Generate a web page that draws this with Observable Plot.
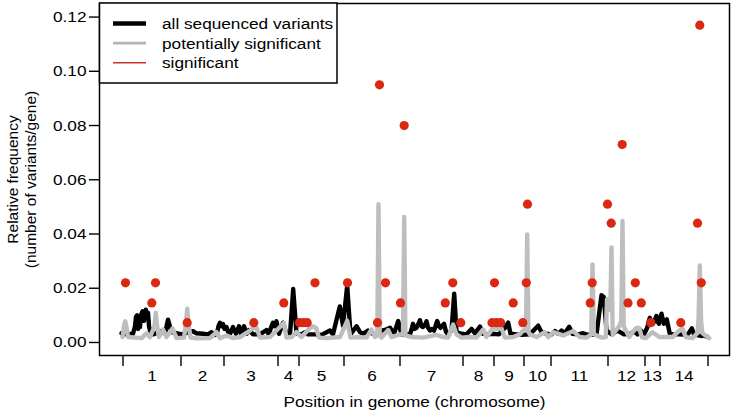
<!DOCTYPE html>
<html><head><meta charset="utf-8">
<script src="https://cdn.jsdelivr.net/npm/d3@7"></script>
<script src="https://cdn.jsdelivr.net/npm/@observablehq/plot@0.6"></script>
<style>body{margin:0;background:#fff;}</style>
</head><body><div id="chart"></div>
<script>
// ---- data ----
const chrNames = ["1","2","3","4","5","6","7","8","9","10","11","12","13","14"];
const chrBounds = [0,58,101,155,176,221,277,340,371,401,428,485,522,537,585];
const yTicks = [0,0.02,0.04,0.06,0.08,0.10,0.12];
const legendLabels = ["all sequenced variants","potentially significant","significant"];

const blackPos = [-1.5,3.5,10,12,13,14,15,16,17,18,19.5,21,22.8,24,25,26,27,30,38.5,42,45,48.5,53.5,58.5,70,73.5,80,85,88.5,92,94,95.5,97,98.5,100,101.5,103.5,105,107,110,113,116,118,121,123.5,126,130,137,143.5,145,146,148,150,151.5,153.5,155,156,160,163.5,167,170.2,173.5,178.5,182,185,192,198.5,207,210,216.8,220,224.2,227.5,233.5,237,240,245,249.5,253.5,258.5,262,267,271,275.2,278.5,287,289,290,291.5,293.5,295,297,298.5,300,302,303.5,305,307,309,311,312.5,314.2,316,317.5,319,321,323,325,328.5,331.2,333.5,338.5,343.5,348.5,352,357,360,365,370,376,382,385.2,387.5,393.5,398.5,407,412,415.2,418.5,423.5,428.5,432,435,438.5,442,446.2,449.5,455,460,463.5,469.5,473.5,478.5,480.8,483.5,488.5,494.5,501,508,511,514.5,518,521,523,524.5,525.5,526.8,528.5,530,532,533.5,535,536,537.5,538.5,540,541,542.5,543.8,545.2,546.8,550,556,564.5,568.8,571,575.5,579,581,584.5];
const blackVal = [.0034,.0030,.0032,.0060,.0095,.0100,.0050,.0090,.0057,.0100,.0115,.0080,.0121,.0090,.0110,.0060,.0044,.0030,.0042,.0032,.0084,.0038,.0034,.0030,.0042,.0034,.0032,.0030,.0038,.0028,.0035,.0060,.0073,.0060,.0068,.0050,.0057,.0040,.0032,.0057,.0032,.0060,.0032,.0060,.0032,.0046,.0030,.0030,.0046,.0035,.0032,.0055,.0073,.0060,.0078,.0050,.0032,.0073,.0032,.0030,.0197,.0032,.0030,.0038,.0030,.0030,.0028,.0044,.0030,.0133,.0062,.0210,.0030,.0060,.0038,.0032,.0044,.0032,.0030,.0044,.0046,.0054,.0032,.0079,.0030,.0030,.0055,.0069,.0050,.0054,.0065,.0082,.0060,.0057,.0065,.0078,.0055,.0044,.0050,.0044,.0060,.0079,.0060,.0054,.0060,.0069,.0040,.0030,.0044,.0180,.0038,.0032,.0030,.0050,.0034,.0059,.0032,.0030,.0032,.0030,.0054,.0073,.0032,.0030,.0028,.0030,.0050,.0062,.0038,.0032,.0030,.0042,.0032,.0044,.0034,.0058,.0032,.0030,.0034,.0030,.0028,.0030,.0174,.0168,.0044,.0030,.0044,.0030,.0032,.0042,.0030,.0044,.0030,.0045,.0057,.0075,.0091,.0070,.0069,.0085,.0098,.0075,.0069,.0090,.0106,.0080,.0069,.0078,.0085,.0060,.0032,.0030,.0030,.0028,.0052,.0030,.0026,.0024,.0026,.0020];

const grayPos = [-0.5,1,2.2,3.4,5,18.5,23.5,27,31.5,32.8,34.1,36,40,43.5,49.5,53.5,61,63,64.2,65.4,67.5,73.5,87,93.5,97,103.5,110,117,127,130.2,133.5,137,147,153.5,160.8,163.5,168.5,173.5,178.5,186,189.5,193,196,203.5,217,224.2,227.5,235,243.5,248.5,252,254.3,255.5,256.7,258.5,265.2,268.5,277,280,281.2,282.4,288.5,300,313.5,320,325,330.2,333.5,338.5,347,353.5,360.2,363.5,370.2,374,378.5,381.8,390.2,396.8,400.2,403,404.2,405.4,406.8,413.5,421.8,425.2,430.2,440.2,450.2,456.8,463.5,468.2,469.5,470.8,478.5,482.8,484,486.2,487.3,488.5,489.7,492.8,496.2,498.3,499.5,500.7,502.8,506.2,509.5,513.5,516.2,518.8,522.8,529.5,536.2,549.5,556.2,559.5,562.8,569.5,574.5,575.5,576.8,578.1,579.3,586.2];
const grayVal = [.0020,.0060,.0078,.0060,.0020,.0016,.0034,.0020,.0060,.0110,.0060,.0020,.0048,.0020,.0052,.0016,.0018,.0070,.0125,.0070,.0018,.0015,.0016,.0038,.0016,.0026,.0016,.0020,.0044,.0054,.0054,.0018,.0020,.0044,.0072,.0018,.0020,.0038,.0020,.0050,.0060,.0054,.0018,.0016,.0020,.0080,.0018,.0020,.0018,.0048,.0020,.0026,.0510,.0026,.0018,.0046,.0020,.0030,.0032,.0463,.0026,.0020,.0018,.0028,.0020,.0018,.0066,.0030,.0018,.0020,.0018,.0048,.0020,.0054,.0050,.0052,.0018,.0020,.0030,.0044,.0050,.0398,.0040,.0030,.0020,.0038,.0020,.0038,.0026,.0042,.0020,.0018,.0030,.0288,.0030,.0018,.0020,.0160,.0155,.0120,.0350,.0028,.0044,.0060,.0080,.0448,.0060,.0044,.0020,.0038,.0054,.0054,.0020,.0016,.0038,.0020,.0020,.0044,.0050,.0020,.0016,.0035,.0080,.0284,.0080,.0035,.0016];

const sigPos = [2.5,32.5,192,224.5,262.5,329.8,371.5,403.3,469.2,512.3,578.3, 28.8,160.8,277.5,322.3,390.2,467.2,505,518.3, 64.2,130.8,176.5,180.5,184.2,254.5,337.8,369,373.3,377.6,399.8,527.7,557.8, 488.2,574.5, 404.5,484.5, 499.2, 281.2, 256.5, 576.8];
const sigVal = [.022,.022,.022,.022,.022,.022,.022,.022,.022,.022,.022, .0146,.0146,.0146,.0146,.0146,.0146,.0146,.0146, .0073,.0073,.0073,.0073,.0073,.0073,.0073,.0073,.0073,.0073,.0073,.0073,.0073, .044,.044, .051,.051, .073, .080, .095, .117];

// ---- build tables ----
const black = blackPos.map((x, i) => ({x, y: blackVal[i]}));
const gray = grayPos.map((x, i) => ({x, y: grayVal[i]}));
const sig = sigPos.map((x, i) => ({x, y: sigVal[i]}));
const chrMids = chrNames.map((_, i) => (chrBounds[i] + chrBounds[i + 1]) / 2);

const FONT = "'Liberation Sans', Arial, Helvetica, sans-serif";
const RED = "#da2812";
const GRAY = "#bebebe";

const plot = Plot.plot({
  width: 733, height: 418,
  marginLeft: 99, marginRight: 4, marginTop: 3, marginBottom: 63,
  style: {fontFamily: FONT, fontSize: "15.5px", color: "black", background: "white", overflow: "visible"},
  x: {domain: [-23.5, 606.5], axis: null},
  y: {domain: [-0.0048, 0.125], axis: null},
  marks: [
    Plot.line(black, {x: "x", y: "y", stroke: "black", strokeWidth: 4.4, strokeLinejoin: "round", strokeLinecap: "round"}),
    Plot.line(gray, {x: "x", y: "y", stroke: GRAY, strokeWidth: 4.4, strokeLinejoin: "round", strokeLinecap: "round"}),
    Plot.dot(sig, {x: "x", y: "y", r: 4.6, fill: RED, stroke: null}),
    Plot.frame({stroke: "black", strokeWidth: 1.5}),
    Plot.axisY(yTicks, {tickSize: 10, tickPadding: 3, tickFormat: d3.format(".2f"), label: null, strokeWidth: 1.4}),
    Plot.axisX(chrBounds, {tickSize: 10, dy: 1, tickFormat: () => "", label: null, strokeWidth: 1.4}),
    Plot.text(chrNames, {x: chrMids, frameAnchor: "bottom", dy: 25}),
    Plot.text(["Position in genome (chromosome)"], {frameAnchor: "bottom", dy: 51}),
    Plot.text(["Relative frequency\n(number of variants/gene)"], {frameAnchor: "left", textAnchor: "middle", dx: -78, rotate: -90, lineHeight: 1.15})
  ]
});

document.getElementById("chart").append(plot);

// ---- legend (inside plot, top-left) ----
const svg = d3.select(plot);
const lg = svg.append("g").attr("font-family", FONT).attr("font-size", "15.5px").attr("text-anchor", "start");
lg.append("rect").attr("x", 99.5).attr("y", 3).attr("width", 237.5).attr("height", 80)
  .attr("fill", "white").attr("stroke", "black").attr("stroke-width", 1.5);
const legStroke = ["black", "#b5b5b5", "#c8352b"];
const legWidth = [4.5, 2.6, 1.4];
legendLabels.forEach((t, i) => {
  const y = 23.5 + i * 19.6;
  lg.append("line").attr("x1", 113).attr("x2", 146).attr("y1", y).attr("y2", y)
    .attr("stroke", legStroke[i]).attr("stroke-width", legWidth[i]);
  lg.append("text").attr("x", 162).attr("y", y).attr("dy", "0.35em")
    .attr("text-anchor", "start").attr("fill", "black").text(t);
});

// slight horizontal stretch of horizontal text (reference glyphs are wider)
svg.selectAll("text").each(function () {
  if (this.querySelector("tspan")) return;
  const L = this.getComputedTextLength();
  if (L > 0) {
    this.setAttribute("textLength", L * 1.11);
    this.setAttribute("lengthAdjust", "spacingAndGlyphs");
  }
});
</script>
</body></html>
